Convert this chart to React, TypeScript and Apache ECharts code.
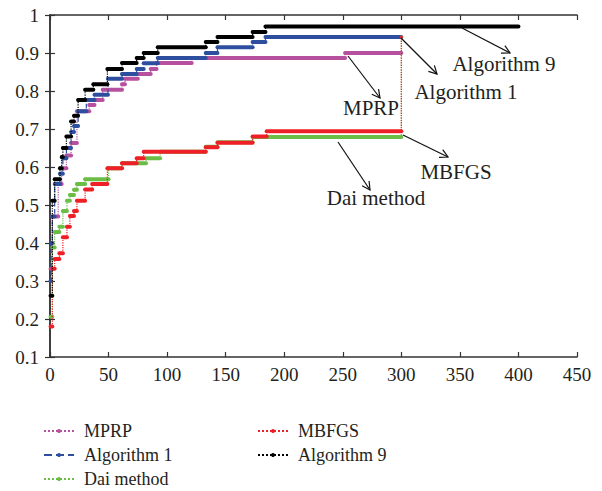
import React, { useEffect, useRef } from "react";
import * as echarts from "echarts";

// ---- Data (performance profile step functions) ----
const mprpX = [0, 2, 7, 10, 14, 18, 23, 33.5, 38, 45, 61.5, 64, 75, 86, 91, 121, 252];
const mprpY = [0.332, 0.47, 0.555, 0.597, 0.63, 0.663, 0.747, 0.763, 0.776, 0.803, 0.818, 0.832, 0.845, 0.858, 0.874, 0.887, 0.9];
const mprpEnd = 300;

const alg1X = [0, 1, 2, 4, 8.5, 11, 14, 18, 20.5, 24, 31, 38, 49.5, 61.5, 74, 80, 92, 133, 143, 173, 184];
const alg1Y = [0.3, 0.4, 0.47, 0.555, 0.582, 0.623, 0.65, 0.692, 0.708, 0.747, 0.776, 0.79, 0.832, 0.845, 0.858, 0.873, 0.887, 0.9, 0.915, 0.929, 0.942];
const alg1End = 300;

const daiX = [0, 2, 4, 8, 11, 14.5, 17, 20.5, 23, 30, 50, 61.5, 82, 94, 133, 143, 173];
const daiY = [0.206, 0.388, 0.429, 0.443, 0.484, 0.511, 0.526, 0.54, 0.555, 0.568, 0.597, 0.61, 0.623, 0.64, 0.653, 0.665, 0.679];
const daiEnd = 300;
const daiTail = 0.942;

const mbfgsX = [0, 2, 4, 8, 11, 14.5, 17, 20.5, 23, 30, 36, 49, 61.5, 74, 80, 133, 143, 173, 185];
const mbfgsY = [0.18, 0.332, 0.358, 0.373, 0.415, 0.443, 0.471, 0.484, 0.511, 0.541, 0.555, 0.597, 0.61, 0.623, 0.64, 0.652, 0.664, 0.68, 0.694];
const mbfgsEnd = 300;
const mbfgsTail = 0.942;

const alg9X = [0, 2, 4, 8.5, 10, 11, 14, 18, 20.5, 24, 30, 37, 49, 61.5, 74, 80, 92, 133, 143, 173, 184];
const alg9Y = [0.261, 0.511, 0.568, 0.597, 0.626, 0.65, 0.68, 0.72, 0.735, 0.776, 0.803, 0.818, 0.858, 0.874, 0.887, 0.9, 0.915, 0.929, 0.942, 0.955, 0.97];
const alg9End = 400;

const xTickInterval = 50;
const yTickInterval = 0.1;

const FONT = "Liberation Serif";
const TEXT_COLOR = "#231f20";

type Method = {
  name: string;
  xs: number[];
  ys: number[];
  end: number;
  tail?: number;
  color: string;
  dash: "dotted" | "dashed";
};

const methods: Method[] = [
  { name: "MPRP", xs: mprpX, ys: mprpY, end: mprpEnd, color: "#b7509f", dash: "dotted" },
  { name: "Algorithm 1", xs: alg1X, ys: alg1Y, end: alg1End, color: "#2e4f9f", dash: "dashed" },
  { name: "Dai method", xs: daiX, ys: daiY, end: daiEnd, tail: daiTail, color: "#6bbd46", dash: "dotted" },
  { name: "MBFGS", xs: mbfgsX, ys: mbfgsY, end: mbfgsEnd, tail: mbfgsTail, color: "#ee2027", dash: "dotted" },
  { name: "Algorithm 9", xs: alg9X, ys: alg9Y, end: alg9End, color: "#000000", dash: "dotted" },
];

// annotation layout (pixel positions)
const annotations = [
  { text: "Algorithm 9", tx: 504, ty: 64, x1: 462, y1: 28, x2: 510, y2: 53 },
  { text: "Algorithm 1", tx: 466, ty: 92, x1: 401, y1: 38, x2: 437, y2: 74 },
  { text: "MPRP", tx: 371, ty: 108, x1: 348, y1: 56, x2: 380, y2: 98 },
  { text: "MBFGS", tx: 456, ty: 172, x1: 403, y1: 135, x2: 448, y2: 157 },
  { text: "Dai method", tx: 376, ty: 198, x1: 338, y1: 142, x2: 370, y2: 190 },
];

function buildGraphics() {
  const els: any[] = [];
  const L = 9;
  const th = (28 * Math.PI) / 180;
  annotations.forEach((a) => {
    const ang = Math.atan2(a.y2 - a.y1, a.x2 - a.x1);
    els.push({
      type: "line",
      shape: { x1: a.x1, y1: a.y1, x2: a.x2, y2: a.y2 },
      style: { stroke: "#111", lineWidth: 1.2 },
      z: 100,
    });
    els.push({
      type: "polyline",
      shape: {
        points: [
          [a.x2 - L * Math.cos(ang - th), a.y2 - L * Math.sin(ang - th)],
          [a.x2, a.y2],
          [a.x2 - L * Math.cos(ang + th), a.y2 - L * Math.sin(ang + th)],
        ],
      },
      style: { stroke: "#111", lineWidth: 1.2, fill: null },
      z: 100,
    });
    els.push({
      type: "text",
      x: a.tx,
      y: a.ty,
      style: {
        text: a.text,
        fill: TEXT_COLOR,
        fontSize: 21,
        fontFamily: FONT,
        align: "center",
        verticalAlign: "middle",
      },
      z: 100,
    });
  });
  return els;
}

export default function App() {
  const ref = useRef<HTMLDivElement>(null);

  useEffect(() => {
    if (!ref.current) return;
    const chart = echarts.init(ref.current, null, { renderer: "svg" });

    const series: any[] = [];
    methods.forEach((m, idx) => {
      const segs = m.xs.map((x, i) => [x, i < m.xs.length - 1 ? m.xs[i + 1] : m.end, m.ys[i]]);
      const steps: number[][] = m.xs.map((x, i) => [x, m.ys[i]]);
      steps.push([m.end, m.ys[m.ys.length - 1]]);
      if (m.tail !== undefined) steps.push([m.end, m.tail]);

      series.push({
        type: "custom",
        name: m.name + " steps",
        data: segs,
        encode: { x: [0, 1], y: 2 },
        clip: true,
        silent: true,
        z: 2 + idx,
        renderItem: (params: any, api: any) => {
          const p0 = api.coord([api.value(0), api.value(2)]);
          const p1 = api.coord([api.value(1), api.value(2)]);
          return {
            type: "line",
            shape: { x1: p0[0], y1: p0[1], x2: p1[0], y2: p1[1] },
            style: { stroke: m.color, lineWidth: 4, lineCap: "round" },
          };
        },
      });
      series.push({
        type: "line",
        name: m.name,
        data: steps,
        step: "end",
        color: m.color,
        lineStyle: { color: m.color, width: 1.2, type: m.dash },
        itemStyle: { color: m.color },
        symbol: "circle",
        symbolSize: 3,
        showSymbol: true,
        silent: true,
        z: 2 + idx,
      });
    });

    const labelStyle = { fontSize: 19, fontFamily: FONT, color: TEXT_COLOR };
    const axisLine = { show: true, lineStyle: { color: "#333", width: 1.5 } };
    const tick = { show: true, inside: true, length: 5, lineStyle: { color: "#333", width: 1.2 } };

    const legendCommon = {
      orient: "vertical",
      itemWidth: 30,
      itemHeight: 5,
      itemGap: 6,
      padding: 0,
      height: 70,
      textStyle: { fontSize: 18, fontFamily: FONT, color: TEXT_COLOR, lineHeight: 18, padding: [0, 0, 0, 5] },
      selectedMode: false,
    };

    chart.setOption({
      animation: false,
      backgroundColor: "#ffffff",
      grid: { left: 50, top: 15, right: 25, bottom: 134, containLabel: false },
      xAxis: [
        {
          type: "value",
          min: 0,
          max: 450,
          interval: xTickInterval,
          position: "bottom",
          axisLine,
          axisTick: tick,
          splitLine: { show: false },
          axisLabel: { ...labelStyle, margin: 8 },
        },
        {
          type: "value",
          min: 0,
          max: 450,
          interval: xTickInterval,
          position: "top",
          axisLine,
          axisTick: tick,
          splitLine: { show: false },
          axisLabel: { show: false },
        },
      ],
      yAxis: [
        {
          type: "value",
          min: 0.1,
          max: 1,
          interval: yTickInterval,
          position: "left",
          axisLine,
          axisTick: tick,
          splitLine: { show: false },
          axisLabel: {
            ...labelStyle,
            margin: 11,
            formatter: (v: number) => String(+v.toFixed(1)),
          },
        },
        {
          type: "value",
          min: 0.1,
          max: 1,
          interval: yTickInterval,
          position: "right",
          axisLine,
          axisTick: tick,
          splitLine: { show: false },
          axisLabel: { show: false },
        },
      ],
      legend: [
        { ...legendCommon, left: 43, top: 422, data: ["MPRP", "Algorithm 1", "Dai method"] },
        { ...legendCommon, left: 257, top: 422, data: ["MBFGS", "Algorithm 9"] },
      ],
      graphic: buildGraphics(),
      series,
    });

    return () => chart.dispose();
  }, []);

  return (
    <div
      ref={ref}
      style={{ position: "fixed", left: 0, top: 0, width: 602, height: 491, background: "#fff" }}
    />
  );
}
